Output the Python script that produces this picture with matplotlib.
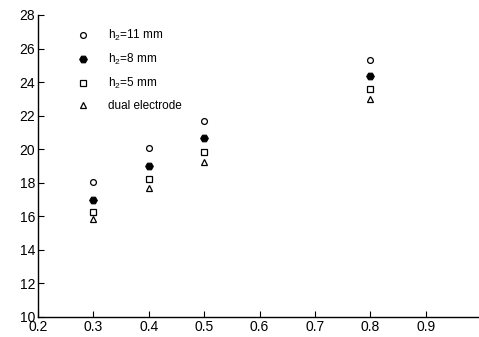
import matplotlib
matplotlib.use("Agg")
import matplotlib.pyplot as plt

plt.rcParams['font.family'] = ['Liberation Sans', 'DejaVu Sans']
plt.rcParams['mathtext.fontset'] = 'custom'
plt.rcParams['mathtext.rm'] = 'Liberation Sans'
plt.rcParams['mathtext.it'] = 'Liberation Sans'

x = [0.3, 0.4, 0.5, 0.8]
h11 = [18.05, 20.1, 21.7, 25.3]
h8 = [17.0, 19.0, 20.67, 24.36]
h5 = [16.24, 18.2, 19.85, 23.6]
dual = [15.82, 17.7, 19.26, 22.97]
labels = [r"h$_2$=11 mm", r"h$_2$=8 mm", r"h$_2$=5 mm", "dual electrode"]
xticks = [0.2, 0.3, 0.4, 0.5, 0.6, 0.7, 0.8, 0.9]
yticks = [10, 12, 14, 16, 18, 20, 22, 24, 26, 28]

W, H = 479, 337
fig = plt.figure(figsize=(W / 100, H / 100), dpi=100)
ax = fig.add_axes([38 / W, 20 / H, 443 / W, 302 / H])

ax.plot(x, h11, linestyle='none', marker='o', ms=4.2, mfc='white', mec='black', mew=0.9, label=labels[0])
ax.plot(x, h8, linestyle='none', marker='H', ms=5.5, mfc='black', mec='black', mew=0.8, label=labels[1])
ax.plot(x, h5, linestyle='none', marker='s', ms=4.0, mfc='white', mec='black', mew=0.9, label=labels[2])
ax.plot(x, dual, linestyle='none', marker='^', ms=4.8, mfc='white', mec='black', mew=0.9, label=labels[3])

ax.set_xlim(0.2, 1.0)
ax.set_ylim(10, 28)
ax.set_xticks(xticks)
ax.set_xticklabels([f"{t:.1f}" for t in xticks])
ax.set_yticks(yticks)
ax.tick_params(direction='in', length=4, width=0.8, labelsize=10, pad=2)
for s in ['top', 'right']:
    ax.spines[s].set_visible(False)
for s in ['left', 'bottom']:
    ax.spines[s].set_linewidth(1.0)

leg = ax.legend(loc='upper left', bbox_to_anchor=(0.078, 0.972), frameon=False,
                fontsize=8.5, handlelength=1.0, handletextpad=1.6,
                labelspacing=0.74, borderaxespad=0.0, numpoints=1)

fig.savefig("out.png", dpi=100)
